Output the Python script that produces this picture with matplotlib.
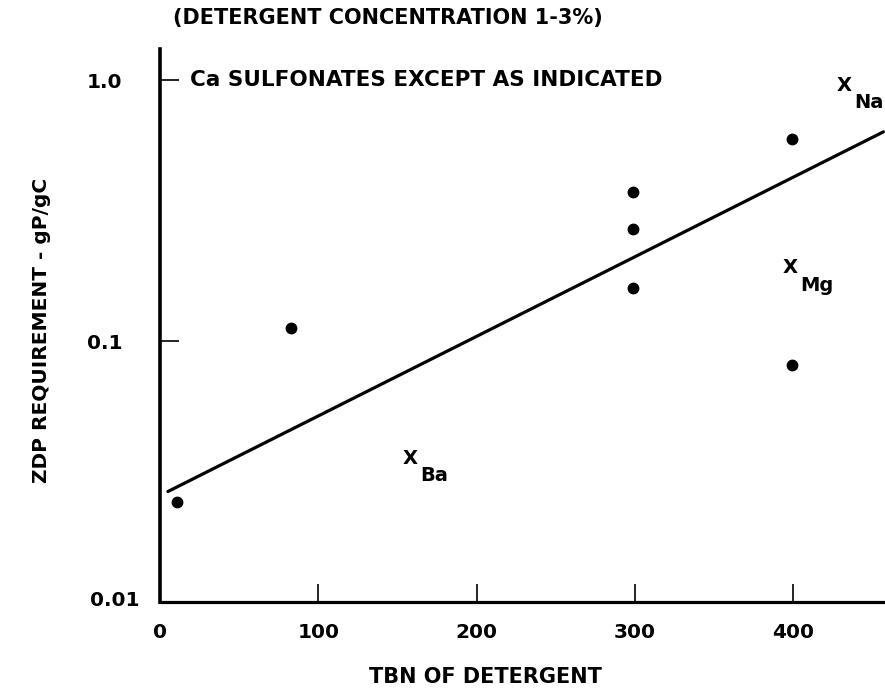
import matplotlib
matplotlib.use("Agg")
import matplotlib.pyplot as plt
from matplotlib.transforms import ScaledTranslation

plt.rcParams['font.family'] = ['DejaVu Sans']
plt.rcParams['font.weight'] = 'bold'
FS = 15

# calcium sulfonates (dots)
tbn_ca = [11, 83, 299, 299, 299, 399, 399]
zdp_ca = [0.0242, 0.112, 0.371, 0.269, 0.160, 0.593, 0.081]

# other metal sulfonates (X marks)
metals = ['Ba', 'Mg', 'Na']
tbn_other = [158, 398, 432]
zdp_other = [0.0356, 0.191, 0.957]

# fitted line end points
fit_tbn = [5, 457]
fit_zdp = [0.0265, 0.633]

ytick_vals = [0.01, 0.1, 1.0]
ytick_labels = ['0.01', '0.1', '1.0']
xtick_vals = [0, 100, 200, 300, 400]

fig = plt.figure(figsize=(8.85, 6.89), dpi=100)
ax = fig.add_axes([0.1808, 0.1263, 0.8192, 0.8026])

ax.set_yscale('log')
ax.set_xlim(0, 458)
ax.set_ylim(0.01, 1.315)

ax.plot(fit_tbn, fit_zdp, color='black', lw=2.3, solid_capstyle='round')
ax.plot(tbn_ca, zdp_ca, 'o', color='black', ms=7.5)

for name, x, y in zip(metals, tbn_other, zdp_other):
    ax.text(x, y, 'X', ha='center', va='center', fontsize=14, fontweight='bold')
    ax.annotate(name, (x, y), xytext=(7.5, -12.5), textcoords='offset points',
                ha='left', va='center', fontsize=14, fontweight='bold')

ax.text(19, 1.0, 'Ca SULFONATES EXCEPT AS INDICATED', ha='left', va='center',
        fontsize=15.5, fontweight='bold')

ax.set_yticks(ytick_vals)
ax.set_yticklabels(ytick_labels)
ax.minorticks_off()
ax.set_xticks(xtick_vals)

ax.tick_params(axis='y', direction='in', length=13.5, width=1.2, pad=27, labelsize=14.5)
ax.tick_params(axis='x', direction='in', length=13, width=1.2, pad=15, labelsize=14.5)
for lab in ax.get_xticklabels() + ax.get_yticklabels():
    lab.set_fontweight('bold')
# the lowest label sits closer to the axis
low = ax.get_yticklabels()[0]
low.set_transform(low.get_transform() + ScaledTranslation(0.17, 0.03, fig.dpi_scale_trans))

for side in ['top', 'right']:
    ax.spines[side].set_visible(False)
ax.spines['left'].set_linewidth(2.6)
ax.spines['bottom'].set_linewidth(2.3)

fig.text(173 / 885, 1 - 18 / 689, '(DETERGENT CONCENTRATION 1-3%)', ha='left', va='center',
         fontsize=FS, fontweight='bold')
fig.text(485 / 885, 1 - 677 / 689, 'TBN OF DETERGENT', ha='center', va='center',
         fontsize=FS, fontweight='bold')
fig.text(42 / 885, 1 - 330 / 689, 'ZDP REQUIREMENT - gP/gC', ha='center', va='center',
         rotation=90, fontsize=14.5, fontweight='bold')

fig.savefig('out.png', dpi=100)
